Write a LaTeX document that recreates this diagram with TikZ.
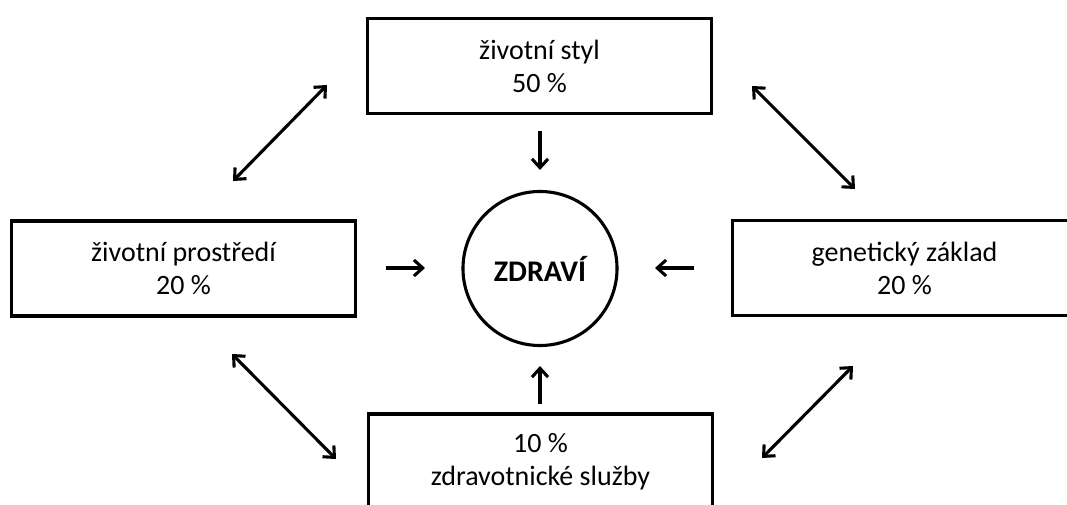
\documentclass[tikz,border=0pt]{standalone}
\usepackage{fontspec}
\setmainfont{Carlito}
\usetikzlibrary{arrows.meta}

\begin{document}
\begin{tikzpicture}[x=0.025cm,y=-0.025cm,>={Straight Barb[length=2.2mm,width=4mm]},
  every node/.style={font=\fontsize{19.9}{23.5}\selectfont},
  factor/.style={draw,line width=2.4pt,minimum width=8.6cm,minimum height=2.38cm,align=center},
  link/.style={<->,line width=2.2pt},push/.style={->,line width=2.2pt}]
\clip (0,0) rectangle (1067,505);
\node[factor] (styl) at (539.5,66) {životní styl\\50 \%};
\node[factor] (prostredi) at (183.5,268.5) {životní prostředí\\20 \%};
\node[factor] (zaklad) at (904.5,268) {genetický základ\\20 \%};
\node[factor] (sluzby) at (540.5,461.5) {10 \%\\zdravotnické služby};
\node[draw,circle,line width=2.2pt,minimum size=3.85cm,font=\fontsize{21.3}{24}\selectfont\bfseries] (zdravi) at (540,268.5) {ZDRAVÍ};
% arrow ends
\coordinate (tl1) at (233,181); \coordinate (tl2) at (327,85);
\coordinate (bl1) at (232,354); \coordinate (bl2) at (336,459);
\coordinate (tr1) at (752,86);  \coordinate (tr2) at (855,189);
\coordinate (br1) at (853,366); \coordinate (br2) at (762,458);
\coordinate (s1) at (540,131); \coordinate (s2) at (540,170);
\coordinate (p1) at (386,268); \coordinate (p2) at (425,268);
\coordinate (z1) at (694,268); \coordinate (z2) at (655,268);
\coordinate (d1) at (540,404); \coordinate (d2) at (540,366);
\draw[link] (tl1)--(tl2);
\draw[link] (bl1)--(bl2);
\draw[link] (tr1)--(tr2);
\draw[link] (br1)--(br2);
\draw[push] (s1)--(s2);
\draw[push] (p1)--(p2);
\draw[push] (z1)--(z2);
\draw[push] (d1)--(d2);
\end{tikzpicture}
\end{document}
